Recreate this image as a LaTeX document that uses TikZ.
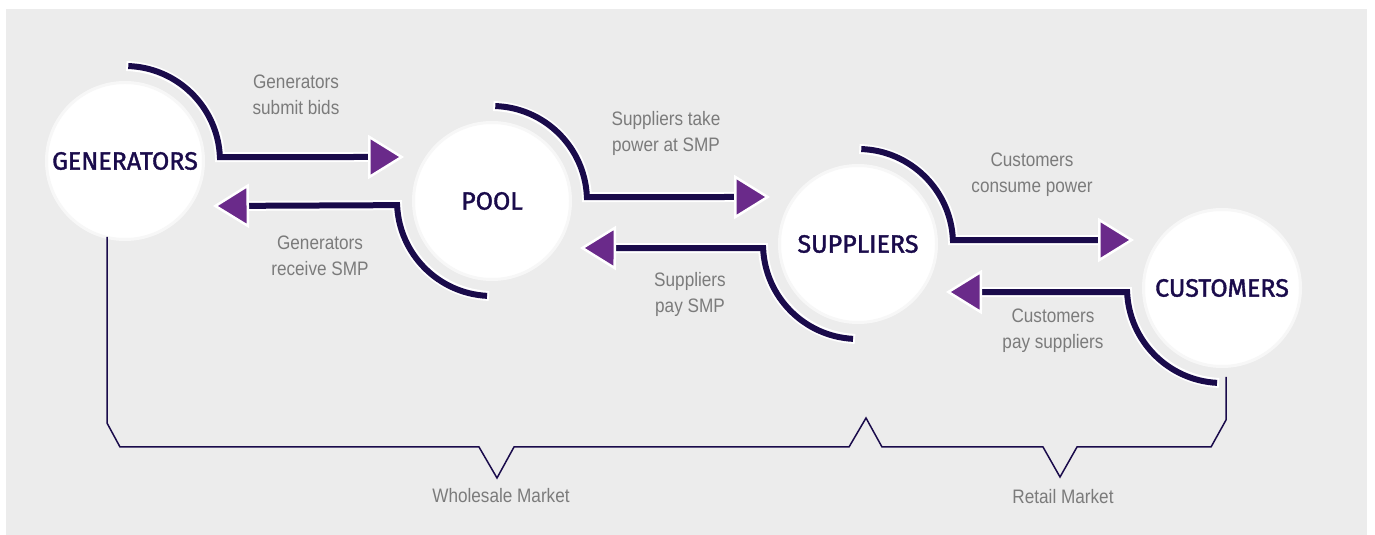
\documentclass[tikz,border=0pt]{standalone}
\usepackage{fontspec}
\setmainfont{Liberation Sans}[FakeStretch=0.88]
\newfontfamily\titlefont{Fira Sans}[FakeBold=1.5]
\usetikzlibrary{calc, arrows.meta}
\definecolor{navy}{HTML}{1A0B4B}
\definecolor{tri}{HTML}{6A2A8A}
\definecolor{notegray}{HTML}{7B7B7B}
\definecolor{bg}{HTML}{ECECEC}
\tikzset{
    party/.style={circle, fill=white, draw=bg!40!white, line width=3pt, minimum size=157pt,
        inner sep=0pt, text=navy, font=\titlefont\fontsize{25}{28}\selectfont},
    note/.style={text=notegray, align=center, font=\fontsize{19.5}{26}\selectfont},
    flow/.style={draw=navy, line width=6pt,
        preaction={draw=white, line width=10pt, arrows=-, shorten >=34pt, shorten <=-2pt},
        -{Triangle[length=36pt,width=44pt,color=white,fill=tri,line width=2.5pt]}},
    market/.style={draw=navy, line width=1.5pt}
}

\begin{document}
\begin{tikzpicture}[x=1pt,y=1pt]
            \useasboundingbox (0,0) rectangle (1375,535);
            \fill[bg] (6,0) rectangle (1367,526);
            % the four parties
            \node[party] (gen) at (125,374) {GENERATORS};
            \node[party] (pool) at (492,334) {POOL};
            \node[party] (sup) at (858,291) {SUPPLIERS};
            \node[party] (cust) at (1222,247) {CUSTOMERS};
            % arrow tips
            \coordinate (gp) at ($(pool.west)+(-8,44)$);
            \coordinate (pg) at ($(gen.east)+(8,-45)$);
            \coordinate (ps) at ($(sup.west)+(-8,47)$);
            \coordinate (sp) at ($(pool.east)+(8,-47)$);
            \coordinate (sc) at ($(cust.west)+(-8,48)$);
            \coordinate (cs) at ($(sup.east)+(8,-48)$);
            \draw[flow] ($(gen)+(88:95pt)$) arc[start angle=88,end angle=2.4,radius=95pt] -- (gp);
            \draw[flow] ($(pool)+(267:95pt)$) arc[start angle=267,end angle=182.5,radius=95pt] -- (pg);
            \draw[flow] ($(pool)+(88:95pt)$) arc[start angle=88,end angle=2.4,radius=95pt] -- (ps);
            \draw[flow] ($(sup)+(267:95pt)$) arc[start angle=267,end angle=182.5,radius=95pt] -- (sp);
            \draw[flow] ($(sup)+(88:95pt)$) arc[start angle=88,end angle=2.4,radius=95pt] -- (sc);
            \draw[flow] ($(cust)+(267:95pt)$) arc[start angle=267,end angle=182.5,radius=95pt] -- (cs);
            % labels
            \node[note] (bids) at (296,440) {Generators\\submit bids};
            \node[note] (receive) at (320,279) {Generators\\receive SMP};
            \node[note] (take) at (666,402) {Suppliers take\\power at SMP};
            \node[note] (paysmp) at (690,241) {Suppliers\\pay SMP};
            \node[note] (consume) at (1032,360) {Customers\\consume power};
            \node[note] (paysup) at (1053,204) {Customers\\pay suppliers};
            % market brackets
            \draw[market] ($(gen)+(-18,-76)$) -- (107,112) -- (120,88) -- (479,88) -- (497,57)
                -- (514,88) -- (849,88) -- (866,117) -- (882,88) -- (1043,88) -- (1060,58)
                -- (1077,88) -- (1211,88) -- (1226,115) -- ($(cust)+(4,-89)$);
            \node[note] (wholesale) at (501,39) {Wholesale Market};
            \node[note] (retail) at (1063,38) {Retail Market};
        \end{tikzpicture}
\end{document}
